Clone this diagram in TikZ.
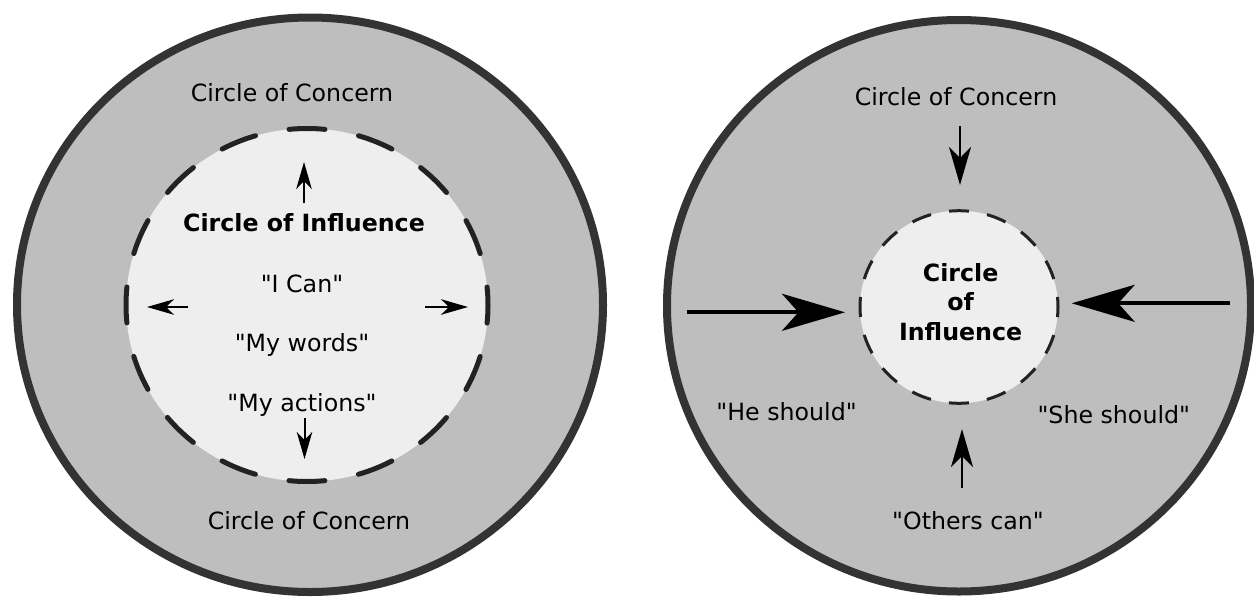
\documentclass[tikz,border=0pt]{standalone}
\usepackage{fontspec}
\setmainfont{DejaVu Sans}[Ligatures=TeXOff]
\usetikzlibrary{arrows.meta}
\definecolor{concernfill}{HTML}{BEBEBE}
\definecolor{influencefill}{HTML}{EEEEEE}
\definecolor{rimcol}{HTML}{333333}
\definecolor{dashcol}{HTML}{222222}
\begin{document}
\begin{tikzpicture}[x=1pt,y=-1pt,
  lbl/.style={font=\fontsize{23.7pt}{29.5pt}\selectfont, inner sep=0pt, anchor=base},
  blbl/.style={font=\fontsize{23.7pt}{29.5pt}\selectfont\bfseries, inner sep=0pt},
  concernring/.style={fill=concernfill, draw=rimcol, line width=8pt},
  bigdash/.style={fill=influencefill, draw=dashcol, line width=5pt, line cap=round,
                  dash pattern=on 36pt off 34.2pt, dash phase=18pt},
  smalldash/.style={fill=influencefill, draw=dashcol, line width=3pt,
                  dash pattern=on 20pt off 18.34pt, dash phase=10pt},
  smallarrow/.style={line width=2pt, -{Stealth[length=27pt,width=15.5pt,inset=8pt]}},
  midarrow/.style={line width=2pt, -{Stealth[length=38pt,width=22pt,inset=11pt]}},
  bigarrow/.style={line width=4.3pt, -{Stealth[length=63pt,width=37pt,inset=16.5pt]}}
]
\useasboundingbox (0,0) rectangle (1254,598);

% ---------- left diagram ----------
\draw[concernring] (310,304.75) ellipse [x radius=293pt, y radius=287.25pt];
\draw[bigdash] (307,305) ellipse [x radius=181pt, y radius=176.5pt];

\node[lbl] (lcc1) at (292,101) {Circle of Concern};
\node[blbl, anchor=base] (lcoi) at (304,231) {Circle of Influence};
\node[lbl] (lcan) at (302,292) {"I Can"};
\node[lbl] (lwords) at (302,351) {"My words"};
\node[lbl] (lactions) at (302,411) {"My actions"};
\node[lbl] (lcc2) at (309,529) {Circle of Concern};

\coordinate (lupS) at (304,203);  \coordinate (lupE) at (304,162);
\coordinate (lleftS) at (188,307); \coordinate (lleftE) at (147,307);
\coordinate (lrightS) at (425,307); \coordinate (lrightE) at (468,307);
\coordinate (ldownS) at (304.5,418); \coordinate (ldownE) at (304.5,459);
\draw[smallarrow] (lupS) -- (lupE);
\draw[smallarrow] (lleftS) -- (lleftE);
\draw[smallarrow] (lrightS) -- (lrightE);
\draw[smallarrow] (ldownS) -- (ldownE);

% ---------- right diagram ----------
\draw[concernring] (959,305.75) ellipse [x radius=292pt, y radius=285.75pt];
\draw[smalldash] (959,307) ellipse [x radius=99pt, y radius=96.3pt];

\node[lbl] (rcc) at (956,105) {Circle of Concern};
\node[blbl, align=center] (rcoi) at (960.6,301.8) {Circle\\of\\Influence};
\node[lbl] (rhe) at (786.6,420) {"He should"};
\node[lbl] (rshe) at (1113.8,423.5) {"She should"};
\node[lbl] (rothers) at (968,529) {"Others can"};

\coordinate (rdownS) at (960,126); \coordinate (rdownE) at (960,185);
\coordinate (rupS) at (962,488); \coordinate (rupE) at (962,429);
\coordinate (rleftS) at (686.7,312.3); \coordinate (rleftE) at (845,312.3);
\coordinate (rrightS) at (1230,303.3); \coordinate (rrightE) at (1071.7,303.3);
\draw[midarrow] (rdownS) -- (rdownE);
\draw[midarrow] (rupS) -- (rupE);
\draw[bigarrow] (rleftS) -- (rleftE);
\draw[bigarrow] (rrightS) -- (rrightE);
\end{tikzpicture}
\end{document}
